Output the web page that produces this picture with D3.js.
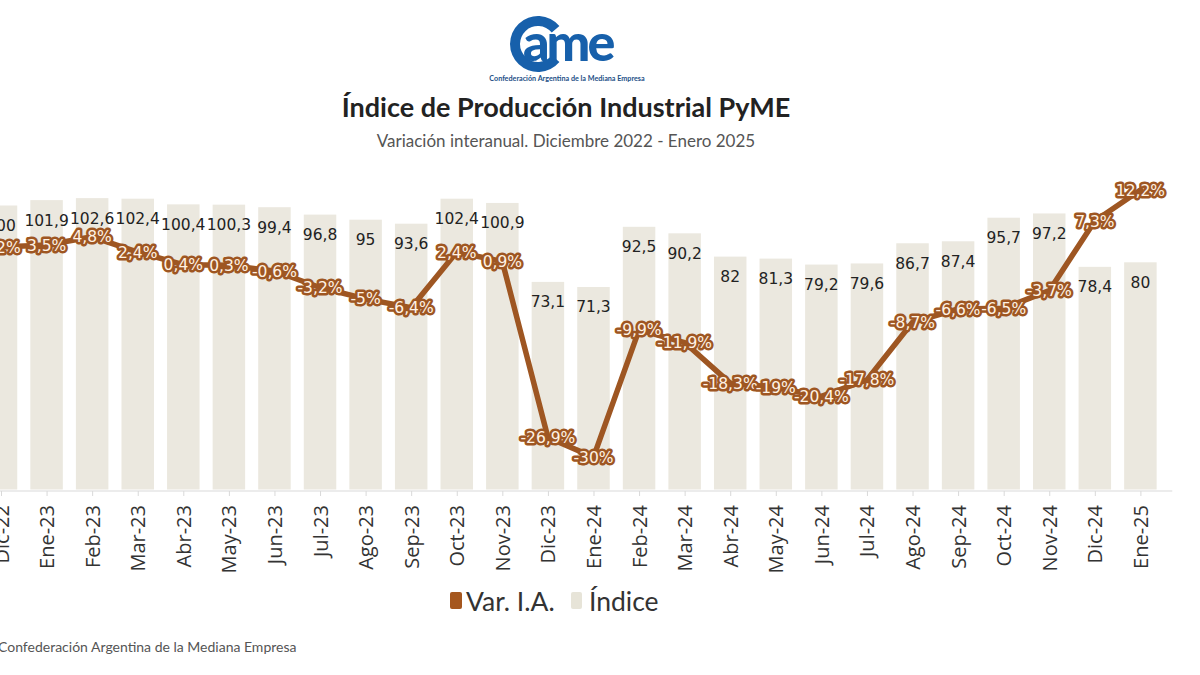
<!DOCTYPE html>
<html><head><meta charset="utf-8">
<script src="https://cdn.jsdelivr.net/npm/d3@7"></script>
<style>
html,body{margin:0;padding:0;background:#fff;}
svg{display:block;}
</style></head>
<body>
<div id="chart"></div>
<script>
const categories = ["Dic-22","Ene-23","Feb-23","Mar-23","Abr-23","May-23","Jun-23","Jul-23","Ago-23","Sep-23","Oct-23","Nov-23","Dic-23","Ene-24","Feb-24","Mar-24","Abr-24","May-24","Jun-24","Jul-24","Ago-24","Sep-24","Oct-24","Nov-24","Dic-24","Ene-25"];
const indice = [100,101.9,102.6,102.4,100.4,100.3,99.4,96.8,95,93.6,102.4,100.9,73.1,71.3,92.5,90.2,82,81.3,79.2,79.6,86.7,87.4,95.7,97.2,78.4,80];
const varIA = [3.2,3.5,4.8,2.4,0.4,0.3,-0.6,-3.2,-5,-6.4,2.4,0.9,-26.9,-30,-9.9,-11.9,-18.3,-19,-20.4,-17.8,-8.7,-6.6,-6.5,-3.7,7.3,12.2];
const seriesNames = ["Var. I.A.", "Índice"];
const titleText = "Índice de Producción Industrial PyME";
const subtitleText = "Variación interanual. Diciembre 2022 - Enero 2025";
const sourceText = "Confederación Argentina de la Mediana Empresa";

const W = 1200, H = 675;
const BROWN = "#9e5622", BAR = "#ebe8df";
const fmt = v => String(v).replace(".", ",");

const svg = d3.select("#chart").append("svg").attr("width", W).attr("height", H);

const x = d3.scalePoint().domain(categories).range([1, 1140.4]);
const step = x.step();
const bw = step * 0.713;
const yBar = d3.scaleLinear().domain([0, 120]).range([489.5, 148.7]);
const yVar = d3.scaleLinear().domain([-35, 20]).range([488.8, 140.6]);

// Logo
const logo = svg.append("g");
const cx = 538, cy = 44, r = 23;
const arc = d3.arc().innerRadius(r - 5).outerRadius(r + 5).startAngle(0.7).endAngle(2 * Math.PI - 0.7);
logo.append("path").attr("d", arc).attr("transform", `translate(${cx},${cy}) rotate(90)`).attr("fill", "#1760ab");
logo.append("text").attr("x", 523).attr("y", 61).text("ame")
  .attr("font-family", "Lato, sans-serif").attr("font-weight", 900).attr("font-size", 52)
  .attr("letter-spacing", -3).attr("fill", "#1760ab");
logo.append("text").attr("x", 567).attr("y", 81).attr("text-anchor", "middle").text(sourceText)
  .attr("font-family", "Lato, sans-serif").attr("font-weight", 700).attr("font-size", 7.2).attr("fill", "#1d4f86");

// Titles
svg.append("text").attr("x", 566).attr("y", 117).attr("text-anchor", "middle").text(titleText)
  .attr("font-family", "Lato, sans-serif").attr("font-weight", 700).attr("font-size", 27).attr("fill", "#222");
svg.append("text").attr("x", 566).attr("y", 147).attr("text-anchor", "middle").text(subtitleText)
  .attr("font-family", "Lato, sans-serif").attr("font-size", 17).attr("fill", "#555");

// Bars
svg.append("g").selectAll("rect").data(indice).join("rect")
  .attr("x", (d, i) => x(categories[i]) - bw / 2)
  .attr("y", d => yBar(d))
  .attr("width", bw)
  .attr("height", d => yBar(0) - yBar(d))
  .attr("fill", BAR);

// Bar labels
svg.append("g").selectAll("text").data(indice).join("text")
  .attr("x", (d, i) => x(categories[i]))
  .attr("y", d => yBar(d) + 20)
  .attr("dy", "0.35em")
  .attr("text-anchor", "middle")
  .attr("font-family", "DejaVu Sans, sans-serif").attr("font-size", 15.5).attr("fill", "#222")
  .text(d => fmt(d));

// Axis
const axisG = svg.append("g").attr("transform", `translate(0,${yBar(0) + 1.5})`)
  .call(d3.axisBottom(x).tickSize(5).tickSizeOuter(0));
axisG.select(".domain").remove();
axisG.append("line").attr("x1", x(categories[0]) - step / 2).attr("x2", x(categories[categories.length - 1]) + step * 0.7)
  .attr("stroke", "#d9d9d9");
axisG.selectAll(".tick line").attr("stroke", "#d9d9d9");
axisG.selectAll(".tick text")
  .attr("transform", "rotate(-90)").attr("x", -14).attr("y", 0).attr("dy", "0.35em")
  .style("text-anchor", "end")
  .attr("font-family", "Open Sans, sans-serif").attr("font-size", 20).attr("fill", "#333");

// Line
const line = d3.line().x((d, i) => x(categories[i])).y(d => yVar(d));
svg.append("path").datum(varIA).attr("d", line)
  .attr("fill", "none").attr("stroke", BROWN).attr("stroke-width", 5.5)
  .attr("stroke-linejoin", "round").attr("stroke-linecap", "round");

// Line labels
svg.append("g").selectAll("text").data(varIA).join("text")
  .attr("x", (d, i) => x(categories[i]))
  .attr("y", d => yVar(d))
  .attr("dy", "0.36em")
  .attr("text-anchor", "middle")
  .attr("font-family", "DejaVu Sans, sans-serif").attr("font-size", 15.5)
  .attr("fill", "#fff2e4").attr("stroke", BROWN).attr("stroke-width", 5)
  .attr("stroke-linejoin", "round").attr("paint-order", "stroke")
  .text(d => fmt(d) + "%");

// Legend
const lg = svg.append("g");
lg.append("rect").attr("x", 450).attr("y", 592).attr("width", 12).attr("height", 17).attr("rx", 2).attr("fill", "#a5571e");
lg.append("text").attr("x", 466).attr("y", 611).text(seriesNames[0])
  .attr("font-family", "Lato, sans-serif").attr("font-size", 26.5).attr("fill", "#333");
lg.append("rect").attr("x", 571).attr("y", 592).attr("width", 11).attr("height", 17).attr("rx", 2).attr("fill", "#e7e4d8");
lg.append("text").attr("x", 589).attr("y", 611).text(seriesNames[1])
  .attr("font-family", "Lato, sans-serif").attr("font-size", 26.5).attr("fill", "#333");

// Source
svg.append("text").attr("x", -2).attr("y", 652).text(sourceText)
  .attr("font-family", "Lato, sans-serif").attr("font-size", 14).attr("fill", "#555");
</script>
</body></html>
